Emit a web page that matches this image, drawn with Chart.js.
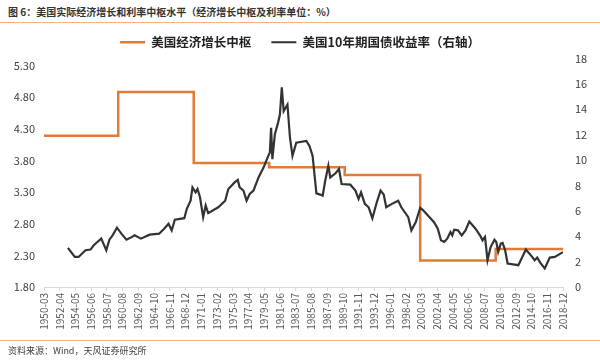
<!DOCTYPE html>
<html>
<head>
<meta charset="utf-8">
<script src="https://cdn.jsdelivr.net/npm/chart.js@4.4.0/dist/chart.umd.min.js"></script>
<style>
body { margin: 0; background: #fff; }
#wrap { position: relative; width: 600px; height: 362px; overflow: hidden; background: #fff; font-family: 'Noto Sans CJK SC', sans-serif; }
#title { position: absolute; left: 8px; top: 4px; font-size: 10px; font-weight: bold; color: #333; white-space: nowrap; }
#topline { position: absolute; left: 0; top: 22px; width: 600px; height: 1px; background: #F4B183; }
#bottomline { position: absolute; left: 0; top: 340px; width: 600px; height: 1px; background: #F4B183; }
#source { position: absolute; left: 8px; top: 344px; font-size: 9px; color: #404040; white-space: nowrap; }
canvas { position: absolute; left: 0; top: 0; }
</style>
</head>
<body>
<div id="wrap">
  <div id="title">图 6：美国实际经济增长和利率中枢水平（经济增长中枢及利率单位：%）</div>
  <div id="topline"></div>
  <canvas id="chart" width="600" height="362"></canvas>
  <div id="bottomline"></div>
  <div id="source">资料来源：Wind，天风证券研究所</div>
</div>
<script>
// 美国经济增长中枢（左轴），每段起点
var growthDates = ["1950-03", "1960-01", "1970-01", "1980-01", "1990-01", "2000-01", "2010-01", "2018-12"];
var growthValues = [4.19, 4.88, 3.76, 3.69, 3.57, 2.22, 2.40, 2.40];

// 美国10年期国债收益率（右轴），从图上读出的点
var yieldDates = ["1953-05", "1954-04", "1954-10", "1955-09", "1956-05", "1956-10", "1957-02", "1957-10", "1958-02", "1958-06",
    "1958-11", "1959-04", "1959-11", "1960-06", "1961-02", "1961-09", "1962-03", "1963-01", "1964-03", "1965-06",
    "1966-02", "1966-09", "1967-02", "1967-07", "1968-10", "1969-02", "1969-08", "1969-11", "1970-04", "1970-07",
    "1970-11", "1971-04", "1971-08", "1971-12", "1973-04", "1974-03", "1974-08", "1975-01", "1975-06", "1975-11",
    "1976-02", "1976-08", "1977-01", "1977-06", "1977-12", "1978-08", "1979-04", "1979-10", "1980-02", "1980-04",
    "1980-06", "1980-10", "1981-03", "1981-06", "1981-09", "1981-12", "1982-03", "1982-06", "1982-10", "1983-02",
    "1983-08", "1984-12", "1985-05", "1985-10", "1986-04", "1986-10", "1987-02", "1987-06", "1987-11", "1988-02",
    "1988-10", "1989-04", "1989-08", "1990-10", "1991-06", "1991-11", "1992-03", "1992-09", "1993-03", "1993-09",
    "1994-04", "1994-10", "1995-03", "1995-07", "1996-04", "1997-02", "1997-07", "1998-06", "1998-11", "1999-06",
    "2000-01", "2000-05", "2001-11", "2002-05", "2002-10", "2003-03", "2003-08", "2004-01", "2004-04", "2004-07",
    "2005-01", "2005-07", "2006-01", "2006-07", "2007-05", "2008-01", "2008-04", "2008-08", "2008-12", "2009-05",
    "2009-11", "2010-02", "2010-05", "2010-09", "2010-12", "2011-04", "2011-08", "2013-01", "2014-01", "2014-10",
    "2015-03", "2015-07", "2015-12", "2016-07", "2017-03", "2017-11", "2018-12"];
var yieldValues = [3.08, 2.37, 2.37, 2.90, 2.95, 3.29, 3.47, 3.81, 3.36, 2.90,
    3.73, 4.07, 4.67, 4.20, 3.73, 3.89, 4.07, 3.81, 4.12, 4.20,
    4.59, 4.98, 4.46, 5.30, 5.42, 6.16, 6.80, 7.85, 7.46, 7.72,
    7.07, 5.50, 6.42, 5.82, 6.28, 6.80, 7.72, 7.98, 8.24, 8.43,
    7.85, 7.60, 6.80, 7.33, 7.59, 8.63, 9.41, 10.15, 10.59, 12.54,
    10.07, 12.03, 12.93, 13.59, 15.73, 13.85, 14.11, 14.37, 11.76, 10.33,
    11.37, 11.50, 11.11, 10.33, 7.38, 7.28, 7.20, 8.37, 9.55, 8.63,
    8.94, 9.29, 8.11, 8.06, 7.59, 6.94, 7.46, 6.55, 6.28, 5.42,
    6.68, 7.59, 7.28, 6.28, 6.55, 6.80, 6.28, 5.50, 4.46, 5.11,
    6.24, 6.08, 5.11, 4.59, 3.68, 3.55, 3.81, 4.33, 4.07, 4.51,
    4.46, 4.07, 4.46, 5.16, 4.59, 3.99, 3.68, 3.94, 2.11, 3.15,
    3.73, 3.55, 2.76, 3.42, 3.47, 2.90, 1.85, 1.72, 2.95, 2.43,
    2.11, 2.32, 1.90, 1.46, 2.32, 2.37, 2.75];

var firstMonth = "1950-03";
var lastMonth = "2018-12";
var labelStep = 25; // 每25个月一个刻度标签
var leftTicks = [1.80, 2.30, 2.80, 3.30, 3.80, 4.30, 4.80, 5.30];

function monthIndex(s) {
    var p = s.split('-');
    var f = firstMonth.split('-');
    return (parseInt(p[0]) - parseInt(f[0])) * 12 + parseInt(p[1]) - parseInt(f[1]);
}
function monthLabel(i) {
    var f = firstMonth.split('-');
    var t = i + parseInt(f[1]) - 1;
    var y = parseInt(f[0]) + Math.floor(t / 12);
    var m = t % 12 + 1;
    return y + '-' + (m < 10 ? '0' + m : m);
}
function toPoints(dates, values) {
    return dates.map(function (d, i) { return {x: monthIndex(d), y: values[i]}; });
}

var tickFont = {family: "'Noto Sans CJK SC', sans-serif", size: 11};

var chart = new Chart(document.getElementById('chart'), {
    type: 'line',
    data: {
        datasets: [{
            label: '美国经济增长中枢',
            data: toPoints(growthDates, growthValues),
            yAxisID: 'yL',
            borderColor: '#E07B39',
            backgroundColor: '#E07B39',
            borderWidth: 2.5,
            stepped: true,
            pointRadius: 0,
            order: 1
        }, {
            label: '美国10年期国债收益率（右轴）',
            data: toPoints(yieldDates, yieldValues),
            yAxisID: 'yR',
            borderColor: '#333333',
            backgroundColor: '#333333',
            borderWidth: 2.2,
            tension: 0,
            pointRadius: 0,
            order: 0
        }]
    },
    options: {
        responsive: false,
        animation: false,
        devicePixelRatio: 1,
        layout: {padding: {top: 16, left: 0, right: 0, bottom: 24}},
        plugins: {
            tooltip: {enabled: false},
            legend: {
                position: 'top',
                labels: {
                    usePointStyle: true,
                    pointStyle: 'line',
                    pointStyleWidth: 25,
                    padding: 20,
                    color: '#222',
                    font: {family: "'Noto Sans CJK SC', sans-serif", size: 12.5, weight: 'bold'},
                    sort: function (a, b) { return a.datasetIndex - b.datasetIndex; }
                }
            }
        },
        scales: {
            x: {
                type: 'linear',
                min: 0,
                max: monthIndex(lastMonth),
                afterFit: function (scale) { scale.height = 51; },
                border: {display: true, color: '#d9d9d9'},
                grid: {display: true, drawOnChartArea: false, drawTicks: true, tickLength: 4, color: '#d9d9d9'},
                ticks: {
                    stepSize: labelStep,
                    autoSkip: false,
                    maxRotation: 90,
                    minRotation: 90,
                    padding: 2,
                    color: '#595959',
                    font: {family: "'Noto Sans CJK SC', sans-serif", size: 10},
                    callback: function (v) { return monthLabel(v); }
                }
            },
            yL: {
                position: 'left',
                min: 1.8,
                max: 5.41,
                afterFit: function (scale) { scale.width = 44; },
                afterBuildTicks: function (scale) {
                    scale.ticks = leftTicks.map(function (v) { return {value: v}; });
                },
                border: {display: false},
                grid: {display: false, drawTicks: false},
                ticks: {
                    padding: 9,
                    color: '#404040',
                    font: tickFont,
                    callback: function (v) { return v.toFixed(2); }
                }
            },
            yR: {
                position: 'right',
                min: 0,
                max: 18,
                afterFit: function (scale) { scale.width = 37; },
                border: {display: false},
                grid: {display: false, drawTicks: false},
                ticks: {
                    stepSize: 2,
                    padding: 12,
                    color: '#404040',
                    font: tickFont
                }
            }
        }
    }
});
</script>
</body>
</html>
